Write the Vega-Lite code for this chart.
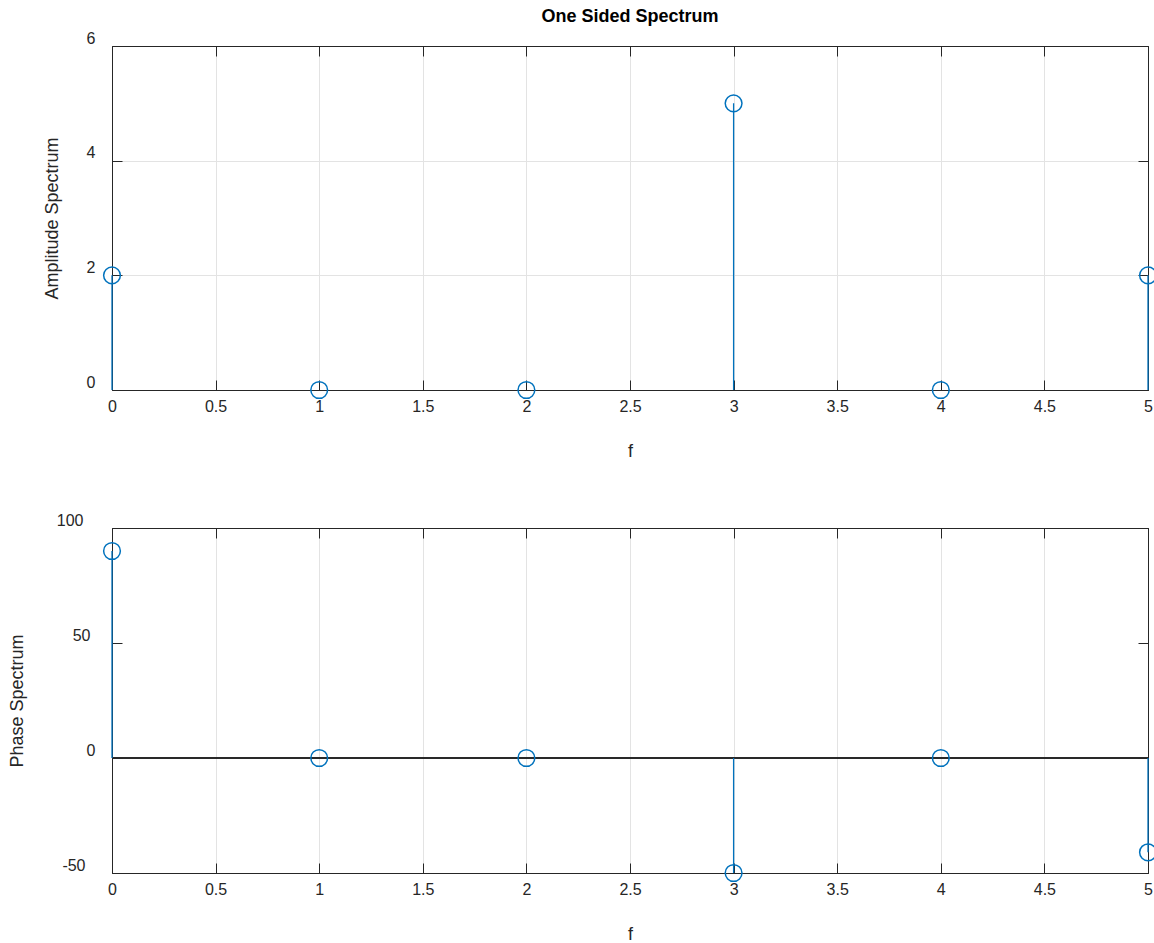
{
  "$schema": "https://vega.github.io/schema/vega-lite/v6.json",
  "padding": {"left": 7, "top": 7, "right": 0, "bottom": 0},
  "autosize": {"type": "pad"},
  "background": "white",
  "config": {
    "font": "Liberation Sans",
    "view": {"stroke": "#262626", "strokeWidth": 1},
    "axis": {
      "domainColor": "#262626",
      "tickColor": "#262626",
      "tickSize": -10,
      "labelColor": "#262626",
      "labelFontSize": 16,
      "titleFontSize": 18,
      "titleFontWeight": "normal",
      "titleColor": "#262626",
      "gridColor": "#e3e3e3",
      "labelFlush": false,
      "labelOverlap": false
    },
    "title": {"fontSize": 18, "fontWeight": "bold", "color": "#000000", "offset": 4}
  },
  "spacing": 50,
  "vconcat": [
    {
      "title": "One Sided Spectrum",
      "width": 1036,
      "height": 344,
      "data": {"values": [
        {"f": 0, "amp": 2}, {"f": 1, "amp": 0}, {"f": 2, "amp": 0},
        {"f": 3, "amp": 5}, {"f": 4, "amp": 0}, {"f": 5, "amp": 2}
      ]},
      "resolve": {"axis": {"x": "independent", "y": "independent"}},
      "layer": [
        {
          "mark": {"type": "rule", "color": "#0072BD", "strokeWidth": 1.3},
          "encoding": {
            "x": {"field": "f", "type": "quantitative", "scale": {"domain": [0, 5], "nice": false},
              "axis": {"values": [0, 0.5, 1, 1.5, 2, 2.5, 3, 3.5, 4, 4.5, 5], "format": "~g", "title": "f", "labelPadding": 18, "titlePadding": 28}},
            "y": {"field": "amp", "type": "quantitative", "scale": {"domain": [0, 6], "nice": false},
              "axis": {"values": [0, 2, 4, 6], "title": "Amplitude Spectrum", "labelPadding": 27, "labelOffset": -8, "titlePadding": 25}},
            "y2": {"datum": 0}
          }
        },
        {
          "mark": {"type": "point", "filled": false, "color": "#0072BD", "strokeWidth": 1.5, "size": 280, "opacity": 1},
          "encoding": {
            "x": {"field": "f", "type": "quantitative", "axis": {"orient": "top", "values": [0, 0.5, 1, 1.5, 2, 2.5, 3, 3.5, 4, 4.5, 5], "labels": false, "title": null, "grid": false}},
            "y": {"field": "amp", "type": "quantitative", "axis": {"orient": "right", "values": [0, 2, 4, 6], "labels": false, "title": null, "grid": false}}
          }
        }
      ]
    },
    {
      "width": 1036,
      "height": 345,
      "data": {"values": [
        {"f": 0, "phase": 90}, {"f": 1, "phase": 0}, {"f": 2, "phase": 0},
        {"f": 3, "phase": -50}, {"f": 4, "phase": 0}, {"f": 5, "phase": -41}
      ]},
      "resolve": {"axis": {"x": "independent", "y": "independent"}},
      "layer": [
        {
          "mark": {"type": "rule", "color": "#262626", "strokeWidth": 1},
          "encoding": {"y": {"datum": 0, "type": "quantitative", "scale": {"domain": [-50, 100], "nice": false}, "axis": null}}
        },
        {
          "mark": {"type": "rule", "color": "#0072BD", "strokeWidth": 1.3},
          "encoding": {
            "x": {"field": "f", "type": "quantitative", "scale": {"domain": [0, 5], "nice": false},
              "axis": {"values": [0, 0.5, 1, 1.5, 2, 2.5, 3, 3.5, 4, 4.5, 5], "format": "~g", "title": "f", "labelPadding": 18, "titlePadding": 28}},
            "y": {"field": "phase", "type": "quantitative", "scale": {"domain": [-50, 100], "nice": false},
              "axis": {"values": [-50, 0, 50, 100], "labelExpr": "'' + datum.value", "title": "Phase Spectrum",
                "labelPadding": {"condition": [{"test": "datum.value == 100", "value": 39}, {"test": "datum.value == 50", "value": 32}, {"test": "datum.value == -50", "value": 37}], "value": 27},
                "labelOffset": -8, "titlePadding": 30}},
            "y2": {"datum": 0}
          }
        },
        {
          "mark": {"type": "point", "filled": false, "color": "#0072BD", "strokeWidth": 1.5, "size": 280, "opacity": 1},
          "encoding": {
            "x": {"field": "f", "type": "quantitative", "axis": {"orient": "top", "values": [0, 0.5, 1, 1.5, 2, 2.5, 3, 3.5, 4, 4.5, 5], "labels": false, "title": null, "grid": false}},
            "y": {"field": "phase", "type": "quantitative", "axis": {"orient": "right", "values": [-50, 0, 50, 100], "labels": false, "title": null, "grid": false}}
          }
        }
      ]
    }
  ]
}
